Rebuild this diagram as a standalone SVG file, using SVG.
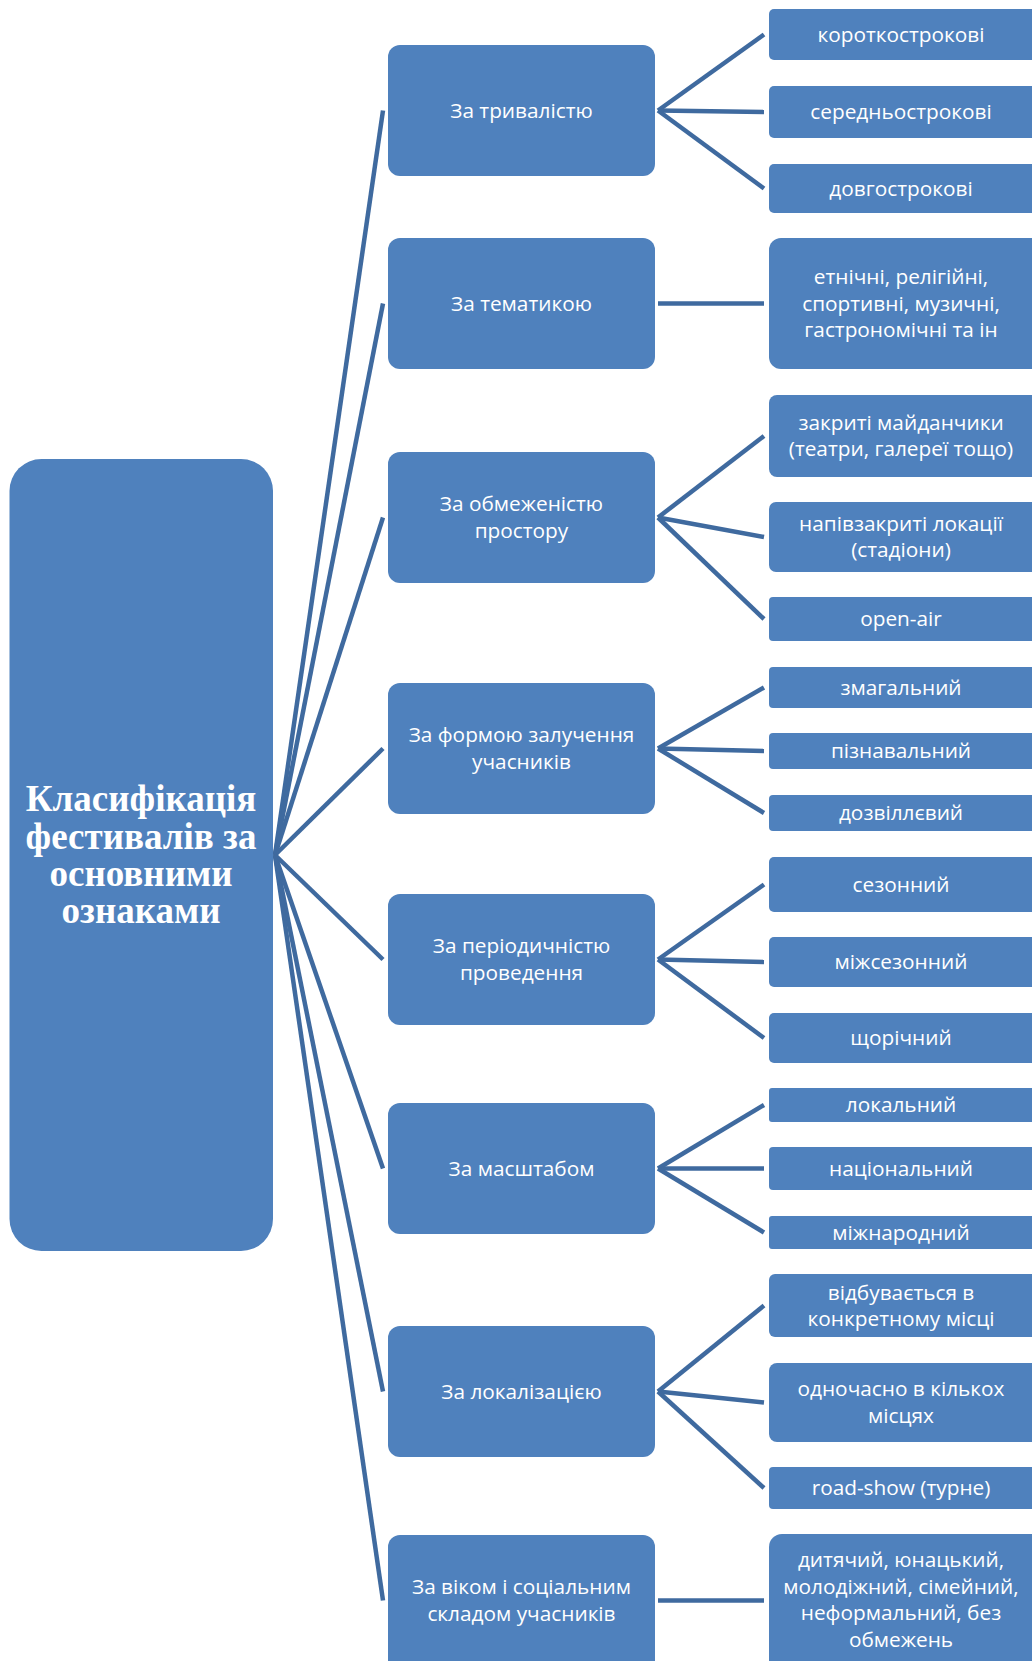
<svg xmlns="http://www.w3.org/2000/svg" width="1032" height="1661" viewBox="0 0 1032 1661">
<style>
.box{fill:#4F81BD}
.t{font-family:"Open Sans","Noto Sans","DejaVu Sans",sans-serif;font-size:20.8px;fill:#FFFFFF;text-anchor:middle}
.rt{font-family:"Liberation Serif","Times New Roman",serif;font-weight:bold;font-size:37px;fill:#FFFFFF;text-anchor:middle}
.c line{stroke:#3F6A9F;stroke-width:4.5;stroke-linecap:butt}
</style>
<rect width="1032" height="1661" fill="#FFFFFF"/>
<g id="connectors" class="c">
<line x1="275" y1="855" x2="383" y2="110.5"/>
<line x1="275" y1="855" x2="383" y2="303.5"/>
<line x1="275" y1="855" x2="383" y2="517.5"/>
<line x1="275" y1="855" x2="383" y2="748.5"/>
<line x1="275" y1="855" x2="383" y2="959.5"/>
<line x1="275" y1="855" x2="383" y2="1168.5"/>
<line x1="275" y1="855" x2="383" y2="1391.5"/>
<line x1="275" y1="855" x2="383" y2="1600.5"/>
<line x1="658" y1="110.5" x2="764" y2="34.5"/>
<line x1="658" y1="110.5" x2="764" y2="112"/>
<line x1="658" y1="110.5" x2="764" y2="188.5"/>
<line x1="658" y1="303.5" x2="764" y2="303.5"/>
<line x1="658" y1="517.5" x2="764" y2="436"/>
<line x1="658" y1="517.5" x2="764" y2="537"/>
<line x1="658" y1="517.5" x2="764" y2="619"/>
<line x1="658" y1="748.5" x2="764" y2="687.5"/>
<line x1="658" y1="748.5" x2="764" y2="751"/>
<line x1="658" y1="748.5" x2="764" y2="813"/>
<line x1="658" y1="959.5" x2="764" y2="884.5"/>
<line x1="658" y1="959.5" x2="764" y2="962"/>
<line x1="658" y1="959.5" x2="764" y2="1038"/>
<line x1="658" y1="1168.5" x2="764" y2="1105"/>
<line x1="658" y1="1168.5" x2="764" y2="1168.5"/>
<line x1="658" y1="1168.5" x2="764" y2="1232.5"/>
<line x1="658" y1="1391.5" x2="764" y2="1305.5"/>
<line x1="658" y1="1391.5" x2="764" y2="1402.5"/>
<line x1="658" y1="1391.5" x2="764" y2="1488"/>
<line x1="658" y1="1600.5" x2="764" y2="1600.5"/>
</g>
<g id="root">
<rect class="box" x="9.5" y="459" width="263.5" height="792" rx="32"/>
<text class="rt" x="141" y="811">Класифікація</text>
<text class="rt" x="141" y="848.5">фестивалів за</text>
<text class="rt" x="141" y="886">основними</text>
<text class="rt" x="141" y="923">ознаками</text>
</g>
<g id="m1"><rect class="box" x="388" y="45" width="267" height="131" rx="12"/><text class="t" x="521.5" y="117.5">За тривалістю</text></g>
<g id="m2"><rect class="box" x="388" y="238" width="267" height="131" rx="12"/><text class="t" x="521.5" y="310.5">За тематикою</text></g>
<g id="m3"><rect class="box" x="388" y="452" width="267" height="131" rx="12"/><text class="t" x="521.5" y="511">За обмеженістю</text><text class="t" x="521.5" y="537.5">простору</text></g>
<g id="m4"><rect class="box" x="388" y="683" width="267" height="131" rx="12"/><text class="t" x="521.5" y="742">За формою залучення</text><text class="t" x="521.5" y="768.5">учасників</text></g>
<g id="m5"><rect class="box" x="388" y="894" width="267" height="131" rx="12"/><text class="t" x="521.5" y="953">За періодичністю</text><text class="t" x="521.5" y="979.5">проведення</text></g>
<g id="m6"><rect class="box" x="388" y="1103" width="267" height="131" rx="12"/><text class="t" x="521.5" y="1175.5">За масштабом</text></g>
<g id="m7"><rect class="box" x="388" y="1326" width="267" height="131" rx="12"/><text class="t" x="521.5" y="1398.5">За локалізацією</text></g>
<g id="m8"><rect class="box" x="388" y="1535" width="267" height="140" rx="12"/><text class="t" x="521.5" y="1594">За віком і соціальним</text><text class="t" x="521.5" y="1620.5">складом учасників</text></g>
<g id="r1a"><rect class="box" x="769" y="9" width="280" height="51" rx="5"/><text class="t" x="901" y="41.5">короткострокові</text></g>
<g id="r1b"><rect class="box" x="769" y="86" width="280" height="52" rx="5"/><text class="t" x="901" y="119">середньострокові</text></g>
<g id="r1c"><rect class="box" x="769" y="164" width="280" height="49" rx="5"/><text class="t" x="901" y="195.5">довгострокові</text></g>
<g id="r2"><rect class="box" x="769" y="238" width="280" height="131" rx="12"/><text class="t" x="901" y="284">етнічні, релігійні,</text><text class="t" x="901" y="310.5">спортивні, музичні,</text><text class="t" x="901" y="337">гастрономічні та ін</text></g>
<g id="r3a"><rect class="box" x="769" y="395" width="280" height="82" rx="8"/><text class="t" x="901" y="429.5">закриті майданчики</text><text class="t" x="901" y="456">(театри, галереї тощо)</text></g>
<g id="r3b"><rect class="box" x="769" y="502" width="280" height="70" rx="7"/><text class="t" x="901" y="530.5">напівзакриті локації</text><text class="t" x="901" y="557">(стадіони)</text></g>
<g id="r3c"><rect class="box" x="769" y="597" width="280" height="44" rx="4"/><text class="t" x="901" y="626">open-air</text></g>
<g id="r4a"><rect class="box" x="769" y="667" width="280" height="41" rx="4"/><text class="t" x="901" y="694.5">змагальний</text></g>
<g id="r4b"><rect class="box" x="769" y="733" width="280" height="36" rx="4"/><text class="t" x="901" y="758">пізнавальний</text></g>
<g id="r4c"><rect class="box" x="769" y="795" width="280" height="36" rx="4"/><text class="t" x="901" y="820">дозвіллєвий</text></g>
<g id="r5a"><rect class="box" x="769" y="857" width="280" height="55" rx="5"/><text class="t" x="901" y="891.5">сезонний</text></g>
<g id="r5b"><rect class="box" x="769" y="937" width="280" height="50" rx="5"/><text class="t" x="901" y="969">міжсезонний</text></g>
<g id="r5c"><rect class="box" x="769" y="1013" width="280" height="50" rx="5"/><text class="t" x="901" y="1045">щорічний</text></g>
<g id="r6a"><rect class="box" x="769" y="1088" width="280" height="34" rx="3"/><text class="t" x="901" y="1112">локальний</text></g>
<g id="r6b"><rect class="box" x="769" y="1147" width="280" height="43" rx="4"/><text class="t" x="901" y="1175.5">національний</text></g>
<g id="r6c"><rect class="box" x="769" y="1216" width="280" height="33" rx="3"/><text class="t" x="901" y="1239.5">міжнародний</text></g>
<g id="r7a"><rect class="box" x="769" y="1274" width="280" height="63" rx="6"/><text class="t" x="901" y="1299.5">відбувається в</text><text class="t" x="901" y="1326">конкретному місці</text></g>
<g id="r7b"><rect class="box" x="769" y="1363" width="280" height="79" rx="8"/><text class="t" x="901" y="1396">одночасно в кількох</text><text class="t" x="901" y="1422.5">місцях</text></g>
<g id="r7c"><rect class="box" x="769" y="1467" width="280" height="42" rx="4"/><text class="t" x="901" y="1495">road-show (турне)</text></g>
<g id="r8"><rect class="box" x="769" y="1534" width="280" height="140" rx="13"/><text class="t" x="901" y="1567">дитячий, юнацький,</text><text class="t" x="901" y="1593.5">молодіжний, сімейний,</text><text class="t" x="901" y="1620">неформальний, без</text><text class="t" x="901" y="1646.5">обмежень</text></g>
</svg>
